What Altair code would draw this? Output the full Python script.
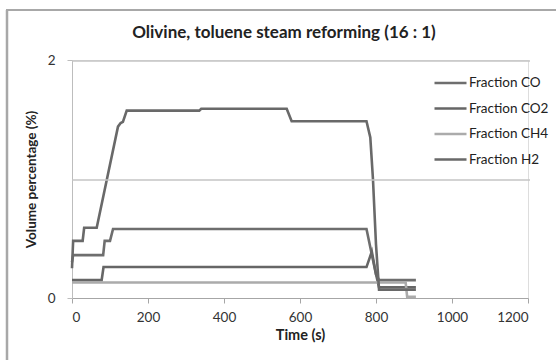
import altair as alt
import pandas as pd

# ---- data ----
series_names = ["Fraction CO", "Fraction CO2", "Fraction CH4", "Fraction H2"]
series_colors = ["#6e6e6e", "#666666", "#ababab", "#696969"]

co_t = [0, 3, 82, 86, 100, 108, 775, 788, 800, 808, 905]
co_v = [0.30, 0.36, 0.36, 0.48, 0.48, 0.58, 0.58, 0.38, 0.20, 0.15, 0.15]

co2_t = [0, 78, 83, 775, 789, 800, 808, 905]
co2_v = [0.15, 0.15, 0.26, 0.26, 0.39, 0.20, 0.09, 0.09]

ch4_t = [0, 878, 882, 905]
ch4_v = [0.13, 0.13, 0.01, 0.01]

h2_t = [0, 3, 28, 32, 65, 121, 128, 134, 144, 335, 340, 565, 578, 775, 785, 792, 800, 808, 905]
h2_v = [0.25, 0.48, 0.48, 0.59, 0.59, 1.44, 1.47, 1.48, 1.575, 1.575, 1.59, 1.59, 1.485,
        1.485, 1.35, 1.0, 0.45, 0.07, 0.07]

x_ticks = [0, 200, 400, 600, 800, 1000, 1200]
y_ticks = [0, 1, 2]
y_grid = [1, 2]

rows = []
for name, ts, vs in zip(series_names, [co_t, co2_t, ch4_t, h2_t], [co_v, co2_v, ch4_v, h2_v]):
    for i, (t, v) in enumerate(zip(ts, vs)):
        rows.append({"series": name, "time": t, "value": v, "order": i})
df = pd.DataFrame(rows)

FONT = "Lato"
YSCALE = alt.Scale(domain=[0, 2], nice=False)

x_enc = alt.X("time:Q", scale=alt.Scale(domain=[0, 1200], nice=False),
              axis=alt.Axis(values=x_ticks, format="d", title="Time (s)", grid=False,
                            domainColor="#a6a6a6", tickColor="#a6a6a6", tickSize=5,
                            labelFontSize=13.5, labelColor="#333333", labelPadding=7,
                            titleFontSize=14.5, titleFontWeight="bold", titleColor="#222222",
                            titlePadding=5, labelFont=FONT, titleFont=FONT))
y_enc = alt.Y("value:Q", scale=YSCALE,
              axis=alt.Axis(values=y_ticks, format="d", title="Volume percentage (%)", grid=False,
                            domainColor="#bdbdbd", tickColor="#bdbdbd",
                            tickSize=5, labelFontSize=13.5, labelColor="#333333", labelPadding=12,
                            titleFontSize=13.5, titleFontWeight="bold", titleColor="#222222",
                            titlePadding=9, labelFont=FONT, titleFont=FONT))

lines = alt.Chart(df).mark_line(strokeWidth=2.6).encode(
    x=x_enc,
    y=y_enc,
    color=alt.Color("series:N",
                    scale=alt.Scale(domain=series_names, range=series_colors),
                    sort=series_names,
                    legend=alt.Legend(title=None, orient="none", legendX=361, legendY=16,
                                      symbolType="stroke", symbolSize=1024,
                                      symbolStrokeWidth=2.6, labelFontSize=13.5,
                                      labelFont=FONT, labelColor="#222222",
                                      labelOffset=1, clipHeight=14, rowPadding=11.5)),
    order="order:Q",
)

grid = alt.Chart(pd.DataFrame({"g": y_grid})).mark_rule(
    color="#c4c4c4", strokeWidth=1.5, yOffset=1).encode(
    y=alt.Y("g:Q", scale=YSCALE, axis=None),
    x=alt.value(0), x2=alt.value(458))

frame = alt.Chart(pd.DataFrame({"k": [0]})).mark_rule(color="#a8a8a8", strokeWidth=2.5).encode(
    x=alt.value(-65), y=alt.value(-50), y2=alt.value(320))
frame_top = alt.Chart(pd.DataFrame({"k": [0]})).mark_rule(color="#a8a8a8", strokeWidth=2).encode(
    x=alt.value(-66), x2=alt.value(500), y=alt.value(-50))

chart = alt.layer(frame, frame_top, lines, grid).resolve_axis(y="independent").properties(
    width=456, height=238,
    title=alt.TitleParams("Olivine, toluene steam reforming (16 : 1)", fontSize=17,
                          font=FONT, fontWeight="bold", color="#222222", anchor="middle",
                          offset=0, dy=33, dx=-16),
    autosize=alt.AutoSizeParams(type="none"),
    padding={"left": 72, "top": 60, "right": 28, "bottom": 62},
).configure_view(stroke=None).configure(background="white")

chart.save("out.html", embed_options={"renderer": "svg", "actions": False})
